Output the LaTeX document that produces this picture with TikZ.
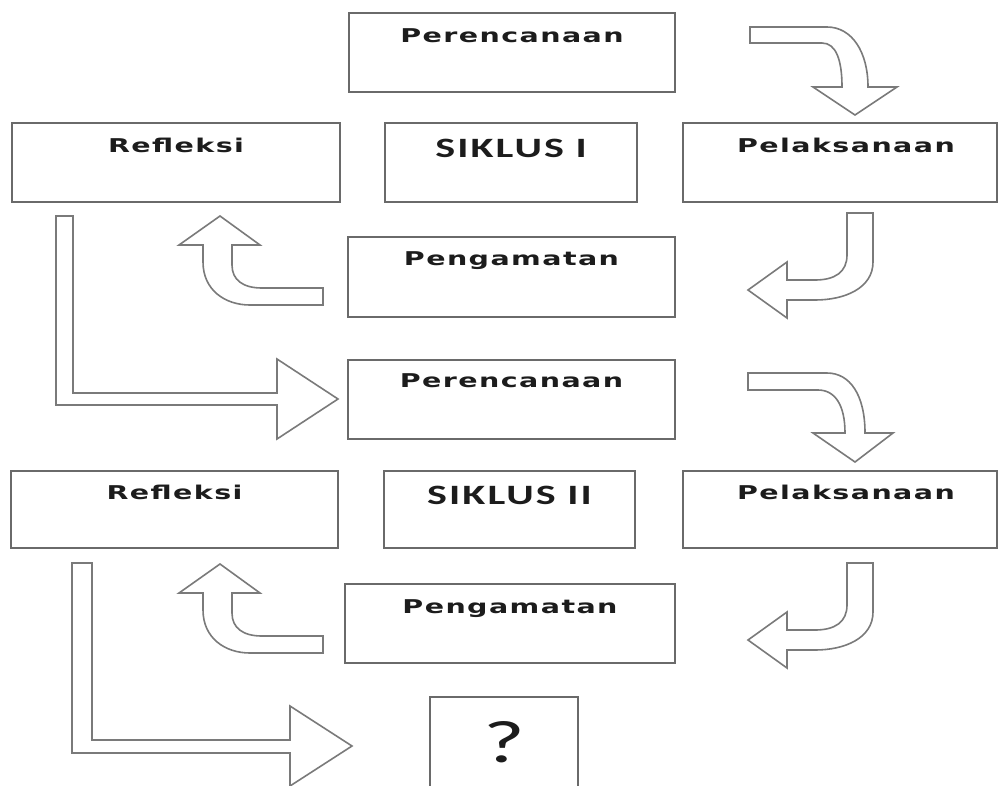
\documentclass[tikz,border=0pt]{standalone}
\usepackage{fontspec}
\usepackage{graphicx}
\usepackage{xcolor}
\usetikzlibrary{positioning}
\newfontfamily\steplabelfont{DejaVu Sans}[LetterSpace=5.0]
\newfontfamily\cyclefont{Carlito}[LetterSpace=5.0]
\definecolor{CycleFrame}{HTML}{6A6A6A}
\definecolor{CycleArrow}{HTML}{7A7A7A}
\definecolor{CycleInk}{HTML}{1C1C1C}
\newcommand{\widetext}[1]{\scalebox{1.5}[1]{#1}}

\begin{document}
\begin{tikzpicture}[x=1pt,y=-1pt,
    cyclebox/.style={draw=CycleFrame,line width=1.8pt,fill=white,inner sep=0pt},
    steplabel/.style={text=CycleInk,font=\steplabelfont\bfseries\fontsize{19pt}{22pt}\selectfont,inner sep=0pt,anchor=base},
    cyclelabel/.style={text=CycleInk,font=\cyclefont\bfseries\fontsize{28pt}{32pt}\selectfont,inner sep=0pt,anchor=base},
    blockarrow/.style={draw=CycleArrow,line width=1.6pt,fill=white,line join=miter}]
  \useasboundingbox (0,0) rectangle (1000,785);
  \clip (0,0) rectangle (1000,785);
  % boxes of cycle I
  \node[cyclebox,minimum width=326pt,minimum height=79pt] (plan1) at (512,52.5) {};
  \node[cyclebox,minimum width=328pt,minimum height=79pt] (refl1) at (176,162.5) {};
  \node[cyclebox,minimum width=252pt,minimum height=79pt] (cyc1) at (511,162.5) {};
  \node[cyclebox,minimum width=314pt,minimum height=79pt] (act1) at (840,162.5) {};
  \node[cyclebox,minimum width=327pt,minimum height=80pt] (obs1) at (511.5,277) {};
  % boxes of cycle II
  \node[cyclebox,minimum width=327pt,minimum height=79pt] (plan2) at (511.5,399.5) {};
  \node[cyclebox,minimum width=327pt,minimum height=77pt] (refl2) at (174.5,509.5) {};
  \node[cyclebox,minimum width=251pt,minimum height=77pt] (cyc2) at (509.5,509.5) {};
  \node[cyclebox,minimum width=314pt,minimum height=77pt] (act2) at (840,509.5) {};
  \node[cyclebox,minimum width=330pt,minimum height=79pt] (obs2) at (510,623.5) {};
  \node[cyclebox,minimum width=148pt,minimum height=96pt] (next) at (504,745) {};
  % labels
  \node[steplabel] (plan1text) at ([yshift=-30pt]plan1.north) {\widetext{Perencanaan}};
  \node[steplabel] (refl1text) at ([yshift=-30pt]refl1.north) {\widetext{Refleksi}};
  \node[cyclelabel] (cyc1text) at ([yshift=-35pt]cyc1.north) {\widetext{SIKLUS I}};
  \node[steplabel] (act1text) at ([xshift=6pt,yshift=-30pt]act1.north) {\widetext{Pelaksanaan}};
  \node[steplabel] (obs1text) at ([yshift=-29pt]obs1.north) {\widetext{Pengamatan}};
  \node[steplabel] (plan2text) at ([yshift=-28pt]plan2.north) {\widetext{Perencanaan}};
  \node[steplabel] (refl2text) at ([yshift=-29pt]refl2.north) {\widetext{Refleksi}};
  \node[cyclelabel] (cyc2text) at ([yshift=-34pt]cyc2.north) {\widetext{SIKLUS II}};
  \node[steplabel] (act2text) at ([xshift=6pt,yshift=-29pt]act2.north) {\widetext{Pelaksanaan}};
  \node[steplabel] (obs2text) at ([yshift=-30pt]obs2.north) {\widetext{Pengamatan}};
  \node[text=CycleInk,font=\cyclefont\fontsize{60pt}{64pt}\selectfont,inner sep=0pt,anchor=base] (nexttext)
    at ([yshift=-66pt]next.north) {\widetext{?}};
  % curved arrows, plan -> act
  \filldraw[blockarrow] (750,27) -- (827,27) .. controls (852,27) and (868,52) .. (868,87)
    -- (897,87) -- (855,115) -- (813,87) -- (842,87)
    .. controls (842,60) and (836,43) .. (822,43) -- (750,43) -- cycle;
  \filldraw[blockarrow] (748,373) -- (827,373) .. controls (850,373) and (865,395) .. (865,433)
    -- (893,433) -- (855,462) -- (813,433) -- (845,433)
    .. controls (845,405) and (835,390) .. (818,390) -- (748,390) -- cycle;
  % act -> obs
  \foreach \dy in {0,350}{
    \filldraw[blockarrow,shift={(0,\dy)}] (847,213) -- (873,213) -- (873,262)
      .. controls (873,288) and (845,300) .. (815,300) -- (787,300) -- (787,318)
      -- (748,290) -- (787,262) -- (787,280) -- (815,280)
      .. controls (835,280) and (847,272) .. (847,255) -- cycle;
  }
  % obs -> refl
  \foreach \dy in {0,348}{
    \filldraw[blockarrow,shift={(0,\dy)}] (323,288) -- (262,288)
      .. controls (243,288) and (232,280) .. (232,265) -- (232,245) -- (260,245)
      -- (220,216) -- (179,245) -- (203,245) -- (203,262)
      .. controls (203,290) and (225,305) .. (250,305) -- (323,305) -- cycle;
  }
  % refl -> next plan
  \filldraw[blockarrow] (56,216) -- (56,405) -- (277,405) -- (277,439) -- (338,399)
    -- (277,359) -- (277,393) -- (73,393) -- (73,216) -- cycle;
  \filldraw[blockarrow] (72,563) -- (72,753) -- (290,753) -- (290,786) -- (352,746)
    -- (290,706) -- (290,740) -- (92,740) -- (92,563) -- cycle;
\end{tikzpicture}
\end{document}
